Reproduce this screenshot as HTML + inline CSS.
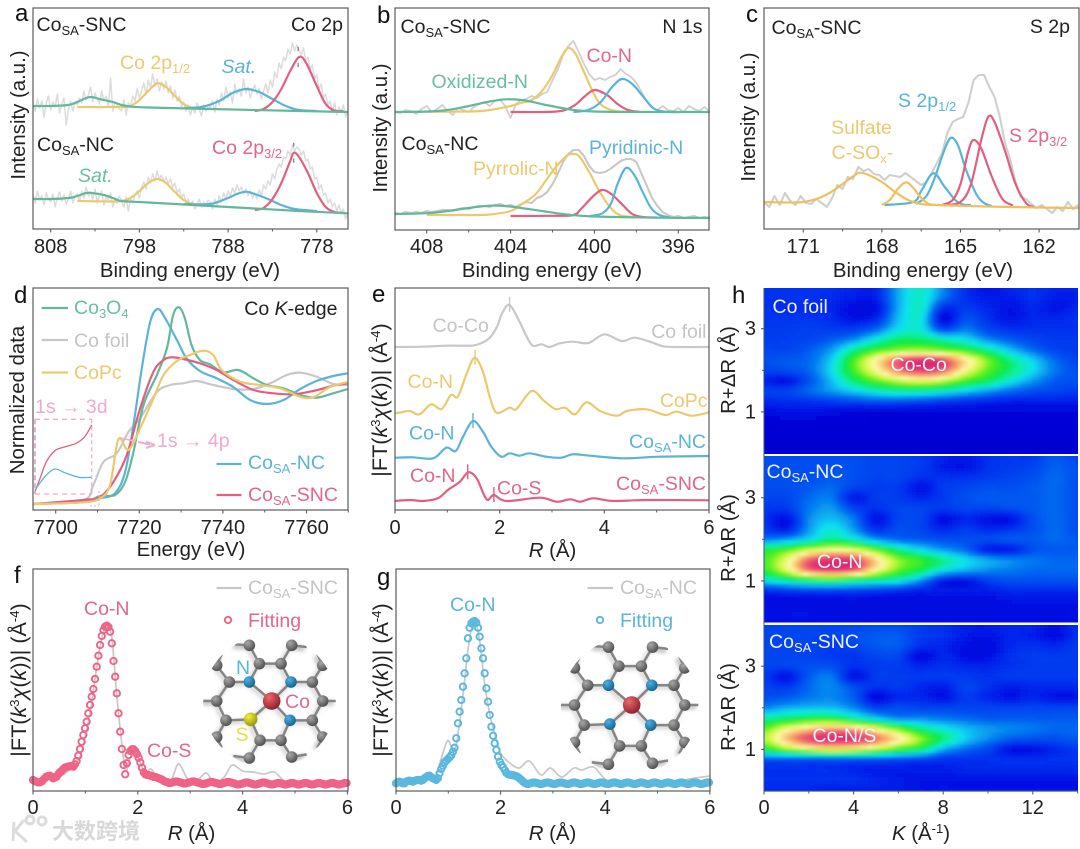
<!DOCTYPE html>
<html lang="en">
<head>
<meta charset="utf-8">
<title>Co single-atom XPS and XAS characterisation</title>
<style>
html,body{margin:0;padding:0;background:#fff;}
svg{display:block;filter:blur(0.35px);}
text{font-family:"Liberation Sans","Noto Sans CJK SC",sans-serif;font-size:19.5px;fill:#222;}
text.ax{font-size:20.4px;}
text.ft{font-size:21.6px;}
.letter{font-size:24px;fill:#111;}
.s{font-size:13px;}
.yel{fill:#ecc96e;}.blu{fill:#5ab4d8;}.tea{fill:#68bfa2;}.red{fill:#e2668a;}.gry{fill:#c4c4c4;}.pnk{fill:#eeaacf;}
.wht{fill:#eef2ff;}
</style>
</head>
<body>
<svg xmlns="http://www.w3.org/2000/svg" width="1080" height="849" viewBox="0 0 1080 849">
<defs>
<filter id="soft" x="-5%" y="-5%" width="110%" height="110%"><feGaussianBlur stdDeviation="1.6"/></filter>
<filter id="shadow" x="-10%" y="-10%" width="120%" height="120%"><feGaussianBlur stdDeviation="2.2"/></filter>
<clipPath id="clip-h1"><rect x="764" y="288" width="314" height="166"/></clipPath>
<clipPath id="clip-h2"><rect x="764" y="456" width="314" height="166.5"/></clipPath>
<clipPath id="clip-h3"><rect x="764" y="625" width="314" height="166"/></clipPath>
<clipPath id="clip-mol-f"><circle cx="269.5" cy="701.5" r="66.5"/></clipPath>
<clipPath id="clip-mol-g"><circle cx="630" cy="706" r="69"/></clipPath>
<radialGradient id="atom-c" cx="35%" cy="30%" r="75%"><stop offset="0" stop-color="#a8a8a8"/><stop offset="1" stop-color="#4c4c4c"/></radialGradient>
<radialGradient id="atom-n" cx="35%" cy="30%" r="75%"><stop offset="0" stop-color="#4fb0e2"/><stop offset="1" stop-color="#14608e"/></radialGradient>
<radialGradient id="atom-s" cx="35%" cy="30%" r="75%"><stop offset="0" stop-color="#f2f23a"/><stop offset="1" stop-color="#98920a"/></radialGradient>
<radialGradient id="atom-co" cx="35%" cy="30%" r="75%"><stop offset="0" stop-color="#e96a6a"/><stop offset="1" stop-color="#8e1c2c"/></radialGradient>
</defs>
<rect width="1080" height="849" fill="#fff"/>

<g clip-path="url(#clip-h1)"><g id="heat-1" filter="url(#soft)"></g></g>
<g clip-path="url(#clip-h2)"><g id="heat-2" filter="url(#soft)"></g></g>
<g clip-path="url(#clip-h3)"><g id="heat-3" filter="url(#soft)"></g></g>
<g id="marks"></g>
<g id="mol-f" clip-path="url(#clip-mol-f)"></g>
<g id="mol-g" clip-path="url(#clip-mol-g)"></g>

<!-- panel a -->
<text class="letter" x="15" y="21">a</text>
<text x="36.5" y="31">Co<tspan class="s" dy="4">SA</tspan><tspan dy="-4">-SNC</tspan></text>
<text x="343" y="31" text-anchor="end">Co 2p</text>
<text class="yel" x="120" y="69">Co 2p<tspan class="s" dy="4">1/2</tspan></text>
<text class="blu" x="221.5" y="73" font-style="italic">Sat.</text>
<text x="37" y="151">Co<tspan class="s" dy="4">SA</tspan><tspan dy="-4">-NC</tspan></text>
<text class="tea" x="78" y="182" font-style="italic">Sat.</text>
<text class="red" x="212" y="154">Co 2p<tspan class="s" dy="4">3/2</tspan></text>
<text class="ax" x="190" y="277" text-anchor="middle">Binding energy (eV)</text>
<text class="ax" x="25" y="115" text-anchor="middle" transform="rotate(-90 25 115)">Intensity (a.u.)</text>

<!-- panel b -->
<text class="letter" x="377" y="23">b</text>
<text x="400.5" y="33">Co<tspan class="s" dy="4">SA</tspan><tspan dy="-4">-SNC</tspan></text>
<text x="702.5" y="33" text-anchor="end">N 1s</text>
<text class="tea" x="431.5" y="88">Oxidized-N</text>
<text class="red" x="586.5" y="62">Co-N</text>
<text x="401.5" y="150">Co<tspan class="s" dy="4">SA</tspan><tspan dy="-4">-NC</tspan></text>
<text class="blu" x="589" y="154">Pyridinic-N</text>
<text class="yel" x="473" y="175">Pyrrolic-N</text>
<text class="ax" x="552" y="277" text-anchor="middle">Binding energy (eV)</text>
<text class="ax" x="387" y="128" text-anchor="middle" transform="rotate(-90 387 128)">Intensity (a.u.)</text>

<!-- panel c -->
<text class="letter" x="746" y="22">c</text>
<text x="771.5" y="34">Co<tspan class="s" dy="4">SA</tspan><tspan dy="-4">-SNC</tspan></text>
<text x="1070" y="33" text-anchor="end">S 2p</text>
<text class="blu" x="898" y="107">S 2p<tspan class="s" dy="4">1/2</tspan></text>
<text class="yel" x="861.5" y="134" text-anchor="middle">Sulfate</text>
<text class="yel" x="831.5" y="159">C-SO<tspan class="s" dy="4">x</tspan><tspan dy="-4">-</tspan></text>
<text class="red" x="1009" y="142">S 2p<tspan class="s" dy="4">3/2</tspan></text>
<text class="ax" x="923" y="277" text-anchor="middle">Binding energy (eV)</text>
<text class="ax" x="755" y="117" text-anchor="middle" transform="rotate(-90 755 117)">Intensity (a.u.)</text>

<!-- panel d -->
<text class="letter" x="14" y="303">d</text>
<text class="tea" x="74" y="314">Co<tspan class="s" dy="4">3</tspan><tspan dy="-4">O</tspan><tspan class="s" dy="4">4</tspan></text>
<text class="gry" x="74" y="347">Co foil</text>
<text class="yel" x="74" y="379">CoPc</text>
<text x="337.5" y="315" text-anchor="end">Co <tspan font-style="italic">K</tspan>-edge</text>
<text class="blu" x="248" y="469">Co<tspan class="s" dy="4">SA</tspan><tspan dy="-4">-NC</tspan></text>
<text class="red" x="248" y="501">Co<tspan class="s" dy="4">SA</tspan><tspan dy="-4">-SNC</tspan></text>
<text class="pnk" x="35" y="413">1s → 3d</text>
<text class="pnk" x="157" y="447">1s → 4p</text>
<text class="ax" x="191" y="556" text-anchor="middle">Energy (eV)</text>
<text class="ax" x="24" y="400" text-anchor="middle" transform="rotate(-90 24 400)">Normalized data</text>

<!-- panel e -->
<text class="letter" x="372" y="302">e</text>
<text class="gry" x="432.5" y="332">Co-Co</text>
<text class="gry" x="706.5" y="338" text-anchor="end">Co foil</text>
<text class="yel" x="407.5" y="388">Co-N</text>
<text class="yel" x="707.5" y="407" text-anchor="end">CoPc</text>
<text class="blu" x="409" y="439.5">Co-N</text>
<text class="blu" x="706" y="448" text-anchor="end">Co<tspan class="s" dy="4">SA</tspan><tspan dy="-4">-NC</tspan></text>
<text class="red" x="410" y="482">Co-N</text>
<text class="red" x="497" y="494.5">Co-S</text>
<text class="red" x="706" y="490" text-anchor="end">Co<tspan class="s" dy="4">SA</tspan><tspan dy="-4">-SNC</tspan></text>
<text class="ax" x="552.5" y="557" text-anchor="middle"><tspan font-style="italic">R</tspan> (Å)</text>
<text class="ft" x="387" y="400" text-anchor="middle" transform="rotate(-90 387 400)">|FT(<tspan font-style="italic">k</tspan><tspan class="s" dy="-7">3</tspan><tspan dy="7" font-style="italic">χ</tspan>(<tspan font-style="italic">k</tspan>))| (Å<tspan class="s" dy="-7">-4</tspan><tspan dy="7">)</tspan></text>

<!-- panel f -->
<text class="letter" x="14" y="583">f</text>
<text class="gry" x="248" y="594">Co<tspan class="s" dy="4">SA</tspan><tspan dy="-4">-SNC</tspan></text>
<text class="red" x="248" y="627">Fitting</text>
<text class="red" x="84" y="615">Co-N</text>
<text class="red" x="147" y="757">Co-S</text>
<text class="ax" x="191.5" y="840" text-anchor="middle"><tspan font-style="italic">R</tspan> (Å)</text>
<text class="ft" x="26" y="680" text-anchor="middle" transform="rotate(-90 26 680)">|FT(<tspan font-style="italic">k</tspan><tspan class="s" dy="-7">3</tspan><tspan dy="7" font-style="italic">χ</tspan>(<tspan font-style="italic">k</tspan>))| (Å<tspan class="s" dy="-7">-4</tspan><tspan dy="7">)</tspan></text>

<!-- panel g -->
<text class="letter" x="377" y="585">g</text>
<text class="gry" x="620" y="594">Co<tspan class="s" dy="4">SA</tspan><tspan dy="-4">-NC</tspan></text>
<text class="blu" x="620" y="627">Fitting</text>
<text class="blu" x="450" y="611">Co-N</text>
<text class="ax" x="552.5" y="840" text-anchor="middle"><tspan font-style="italic">R</tspan> (Å)</text>
<text class="ft" x="388" y="680" text-anchor="middle" transform="rotate(-90 388 680)">|FT(<tspan font-style="italic">k</tspan><tspan class="s" dy="-7">3</tspan><tspan dy="7" font-style="italic">χ</tspan>(<tspan font-style="italic">k</tspan>))| (Å<tspan class="s" dy="-7">-4</tspan><tspan dy="7">)</tspan></text>

<!-- panel h -->
<text class="letter" x="732" y="303">h</text>
<text class="wht" x="772.5" y="313">Co foil</text>
<text class="wht" x="890.5" y="371">Co-Co</text>
<text class="wht" x="766.5" y="478">Co<tspan class="s" dy="4">SA</tspan><tspan dy="-4">-NC</tspan></text>
<text class="wht" x="817" y="568">Co-N</text>
<text class="wht" x="769" y="648">Co<tspan class="s" dy="4">SA</tspan><tspan dy="-4">-SNC</tspan></text>
<text class="wht" x="812.5" y="742">Co-N/S</text>
<text class="ax" x="735" y="370" text-anchor="middle" transform="rotate(-90 735 370)">R+ΔR (Å)</text>
<text class="ax" x="735" y="538" text-anchor="middle" transform="rotate(-90 735 538)">R+ΔR (Å)</text>
<text class="ax" x="735" y="707" text-anchor="middle" transform="rotate(-90 735 707)">R+ΔR (Å)</text>
<text class="ax" x="921" y="840" text-anchor="middle"><tspan font-style="italic">K</tspan> (Å<tspan class="s" dy="-7">-1</tspan><tspan dy="7">)</tspan></text>

<!-- molecule atom labels (above the molecule) -->
<text class="blu" x="236" y="674">N</text>
<text class="red" x="285" y="708">Co</text>
<text x="235.5" y="741" style="fill:#e2e04a">S</text>

<!-- watermark -->
<g fill="none" stroke="#dcdcdc" stroke-width="3">
<path d="M14 822 L13 841 M24 820 L15 831 L27 842"/>
<circle cx="30" cy="820" r="4"/>
<circle cx="42" cy="821" r="4"/>
</g>
<text x="52" y="839" style="font-size:22px;fill:#d8d8d8;font-weight:bold;font-family:'Liberation Sans','Noto Sans CJK SC',sans-serif">大数跨境</text>
</svg>

<script>
// ---------- panel a data ----------
const aTicks=[808,798,788,778];
const aMinor=[803,793,783];
const aSncGray=[124,118,130,121,128,112,126,133,119,127,122,135,116,125,131,104,120,128,118,127,
124,131,126,138,129,134,142,127,136,130,125,138,128,133,122,151,118,127,124,120,
118,129,114,126,122,133,128,140,131,138,146,134,149,141,155,143,150,138,147,140,
148,136,143,131,139,128,133,122,127,118,124,114,122,116,126,120,113,124,118,123,
121,128,117,130,124,136,128,142,131,137,126,145,135,140,133,150,136,142,131,139,
144,135,141,130,138,145,136,149,142,157,151,166,160,172,168,180,175,186,178,184,
179,174,181,168,172,160,164,150,154,140,145,131,135,124,128,118,126,114,122,118,
124,112,118];
const aNcGray=[34,26,38,29,33,24,36,30,27,35,22,31,37,28,34,25,30,38,26,33,
35,28,38,31,42,33,37,30,40,26,34,38,24,32,29,36,22,30,26,33,
28,22,32,18,30,26,34,38,31,42,47,40,52,46,55,48,58,50,54,47,
52,45,50,42,46,36,40,31,35,26,30,24,28,20,25,30,22,27,24,29,
26,20,30,24,33,27,36,30,38,33,41,36,44,38,42,35,40,33,38,31,
36,30,39,33,44,40,48,44,55,50,60,65,62,72,70,78,74,84,78,82,
80,74,78,68,70,60,62,50,52,40,44,34,36,26,30,22,26,18,24,16,
20,10,16];
const aSncTealE=[810,808,806,805,804,803.4,802.5,801,800,799,797,790,780,774.5];
const aSncTealV=[123,123,124,127,131,132,130,127,124,122.5,121.5,120,118,117];
const aSncYelE=[805,800,799,798,797,796,795,794,793,792,791];
const aSncYelV=[122,122,123,129,138,145.7,142,133,125,121,120.5];
const aSncBluE=[793,791,789,787.5,786,784.5,783,781.5,780,778];
const aSncBluV=[121,122,128,136,140,137,130,123,119,118];
const aSncRedE=[785,784,783,782,781,780,779.2,778,777,776,775];
const aSncRedV=[118,120,127,140,158,172,166,143,125,118.5,118];
const aNcTealE=[810,808,806,805,804,803.4,802,801,800,798,795,790,785,780,774.5];
const aNcTealV=[30,30,31,33,36,36,34,31,28,27,25.5,23,20.5,18,15.7];
const aNcYelE=[805,801,800,799,798,797,796,795,794,793,792,791];
const aNcYelV=[28,27.5,28,31,38,46,50,46,37,29,25,24];
const aNcBluE=[793,790,788,787,786,785,783.5,782,780.5,778];
const aNcBluV=[25,25,31,35,37.3,35,30,24,20,18];
const aNcRedE=[785,784,783,782,781,780.6,780,779,778,777,776,775];
const aNcRedV=[19,21,30,46,68,76.3,72,56,36,22,17,16];
const aPeakMarksE=[780.1,780.6];
const aPeakMarksV=[172,76.3];

// ---------- panel b data ----------
const bTicks=[408,404,400,396];
const bMinor=[406,402,398];
const bSncGray=[118,117,120,119,116,121,124,118,121,125,119,115,122,120,118,123,126,128,124,129,130,124,112,126,130,131,134,132,136,138,150,160,175,184,189,178,166,156,150,152,150,153,155,161,156,153,147,138,128,122,120,124,120,119,122,118,124,121,119,123,118];
const bNcGray=[17,16,18,17,18,17,19,18,19,20,20,19,21,22,21,23,24,24,23,25,26,24,25,23,26,28,27,32,34,38,46,56,68,76,80,80,74,64,58,57,58,61,65,69,71,71,68,56,44,32,24,18,15,13,14,12,13,14,12,13,12];
const bSncTealE=[409.5,408,407,406,405,404.2,403.3,402.3,401,400,398,394.5];
const bSncTealV=[118,118.5,120,124,128.5,130.7,129.5,125,120,118.5,118,118];
const bSncYelE=[409.5,406,405,404,403.5,403,402.5,402,401.6,401.25,400.9,400.5,400,399.6,399,398];
const bSncYelV=[118,118.5,120,124,127,130,139,155,172,182,176,158,135,124,119,118];
const bSncRedE=[404,401.8,401,400.5,400,399.4,398.9,398.4,397.8];
const bSncRedV=[118,118.5,124,133,140,135,126,120,118];
const bSncBluE=[401,400.3,399.7,399.2,398.7,398.2,397.7,397.2,396.7,396];
const bSncBluV=[118,120,128,142,151,146,134,122,118.5,118];
const bNcTealE=[409.5,408,407,406,405,404.3,403.5,402.5,401.5,400.5,399,397,394.5];
const bNcTealV=[16,16.8,19,22,24.3,24,22,19,16,14,13,12.3,12];
const bNcYelE=[408,406,405,404,403.4,402.8,402.3,401.8,401.3,401,400.7,400.2,399.8,399.3,398.8,398];
const bNcYelV=[15,15,15.5,19,26.7,36,50,64,74.5,76,73,56,40,24,15,13];
const bNcRedE=[404,402,401,400.6,400.1,399.65,399.2,398.7,398.2,397.7,397];
const bNcRedV=[14,14.2,15,22,33,40,36,26,16,13,12.5];
const bNcBluE=[400.2,399.6,399.2,398.9,398.5,398.1,397.7,397.3,396.9,396.4];
const bNcBluV=[14,17,27,46,62,55,38,22,15,12.5];

// ---------- panel c data ----------
const cTicks=[171,168,165,162];
const cMinor=[169.5,166.5,163.5];
const cGray=[27,22,33,24,36,28,24,33,26,25,30,26,22,31,44,40,52,50,62,58,60,55,54,49,54,53,52,56,52,48,44,47,56,66,76,96,107,110,112,126,149,154,154,142,132,112,86,69,47,32,30,25,21,24,20,16,22,18,27,20,24];
const cYelE=[172.5,171.5,171,170.5,170,169.5,169,168.84,168.5,168,167.5,167,166.5,166,164,162,160.5];
const cYelV=[27,26.5,27,30,36,45,54.5,56.3,54,47,37,29,25,24,22.5,21.5,21];
const cYel2E=[168,167.7,167.4,167.08,166.8,166.5,166.2,165.8];
const cYel2V=[24,29,40,46.7,41,31,25,24];
const cBlu1E=[167.9,166.8,166.5,166.04,165.6,165.2,164.9,164.6];
const cBlu1V=[24,27,38,55.7,42,29,24.5,24];
const cBlu2E=[166.7,166.3,166,165.6,165.36,165.1,164.8,164.4,164.1,163.8];
const cBlu2V=[25,33,50,80,91.3,84,60,35,26,23];
const cRed1E=[165.7,165.3,165,164.7,164.5,164.2,163.8,163.4,163];
const cRed1V=[24,29,45,78,89,80,52,30,23.5];
const cRed2E=[165.6,165,164.6,164.2,163.94,163.7,163.3,162.9,162.5,162.2];
const cRed2V=[24,27,45,90,112.3,107,78,45,26,22];

// ---------- panel d data ----------
const dTicks=[7700,7720,7740,7760];
const dMinor=[7710,7730,7750,7770];
const dBluE=[7694.7,7706.6,7710.6,7714.2,7716.6,7718.6,7720.6,7722.6,7724.4,7726.2,7729,7731.3,7734.5,7738.5,7742.5,7746.5,7750.5,7754.5,7758.5,7762.4,7766.4,7769.9];
const dBluV=[6,8.3,11.7,16.7,38,85,141.7,188,201,191.7,170,151.7,139,131.7,123,110,106,110,121,129,134,136.7];
const dTeaE=[7694.7,7706.6,7710.6,7714.2,7716.6,7718.6,7721,7724.2,7726.6,7728.1,7729.5,7730.9,7732.5,7734.5,7736.9,7740.1,7743.7,7747.3,7750.5,7754.5,7758.5,7762.4,7766.4,7769.9];
const dTeaV=[6,8,14,15,28,58,105,135,161.7,195,202.7,191.7,165,150,145.7,137.7,140,131.7,125,121.7,115,112.3,116.7,121];
const dGryE=[7694.7,7706.6,7709,7711.4,7714.6,7717.4,7720.2,7724.2,7727.4,7730.5,7733.7,7737.7,7742.5,7747.3,7751.3,7755.3,7758.5,7762.4,7766.4,7769.9];
const dGryV=[6,10,25,48,56.7,78,91.7,118,125,126.7,129,125,121,121,126.7,135,137.3,133.3,126,125];
const dYelE=[7694.7,7706.6,7710.6,7713,7715,7717.4,7720.2,7723.4,7725.8,7729,7732.1,7735.3,7737.7,7739.7,7744.1,7748.9,7753.7,7758.5,7761.6,7765.6,7769.9];
const dYelV=[6,7.7,11.7,25,70.7,60,81.7,111.7,135,149,155,159.3,155,140,128.3,125,121.7,113.3,112.7,123,128];
const dRedE=[7694.7,7706.6,7710.6,7713.8,7717,7720.2,7723.4,7725.8,7727.8,7730.5,7734.5,7738.5,7742.5,7747.3,7752.1,7756.9,7761.6,7766.4,7769.9];
const dRedV=[6,10,13,28,55,101.7,138.3,150,152.7,151,146.7,140,130,120,116.7,115.7,119,124.3,126.7];
const insetRedE=[7707,7707.4,7707.8,7708.4,7709,7709.9,7710.5,7711];
const insetRedV=[18.3,33.3,48.3,59.3,62.7,66.7,73.3,85];
const insetBluE=[7707,7707.4,7707.8,7708.4,7709.2,7710.1,7711];
const insetBluV=[20,28,35,41,36.7,32.7,32.7];

// ---------- panel e data ----------
const rTicks=[0,2,4,6];
const rMinor=[1,3,5];
const eGryR=[0,.5,1,1.3,1.55,1.8,1.95,2.05,2.19,2.38,2.5,2.63,2.8,2.95,3.15,3.4,3.7,4,4.33,4.58,4.87,5.13,5.45,6];
const eGryV=[163,163.3,164.3,164.3,165,171.7,183.3,197,205,188.3,175,164.3,165.7,163,166.7,168.3,167,175.7,169,172.3,168.3,163.7,163,163];
const eYelR=[0,.12,.28,.47,.69,.89,1.07,1.2,1.36,1.52,1.68,1.81,1.94,2.19,2.32,2.61,2.83,3.06,3.25,3.44,3.66,3.92,4.24,4.43,4.81,5.16,5.38,5.67,6];
const eYelV=[96.7,97.7,99,95.7,105.7,101,115,113.3,135,152.3,138.3,113.3,97.3,102.3,101,119,110,101,102.3,95.7,107.7,99,94.3,99,100.7,95,98.3,94.3,97.7];
const eBluR=[0,.34,.73,.98,1.16,1.3,1.49,1.68,1.84,2.03,2.19,2.38,2.57,2.89,3.18,3.4,3.72,4.36,5.06,6];
const eBluV=[52.3,52.7,51.7,62.3,59,73.3,89,78.3,63.3,53.3,56.7,54.3,56.7,53.3,52.3,55.7,54.3,51.7,53.3,54];
const eRedR=[0,.28,.54,.82,1.01,1.24,1.4,1.56,1.75,1.89,2.13,2.77,3.09,3.35,3.54,3.79,4.17,4.81,6];
const eRedV=[9,10,9,11.7,20,28.3,37.7,31.7,10.7,15,9,12.3,8.3,10.7,8.3,11.7,9,10,9.7];
const eMarkR=[2.19,1.53,1.49,1.39,1.89];
const eMarkV=[205,152.3,89,37.7,15];

// ---------- panel f data ----------
const fitStep=0.032;
const fFit=[11,10,9.3,8.7,8.7,9.3,11,12.7,14.3,15,15.3,14.3,12.7,13.3,14.3,16.7,18.7,20,22,23.3,24,24.3,24.7,25,24.3,26.7,30,35.3,42,49.3,56,62.7,69.3,77.7,86,94.3,102,112,124.3,135.3,146,155,161,164.3,165.3,164,159.3,147.7,130,114.3,97.7,77.7,59.3,42,26,16.7,27.7,36,40,41.7,41.7,40,37,33.3,28.7,23.3,18.7,16.7,16,16,15.3,14.7,14,14,13.3,12.7,12,11.3,10,9.3,9,8,8,8.5,9,9.5,9.5,9,8.5,8,7.5,7.5,8,8.5,9,9.5,9.5,9,8.5,8,7.5,7,7,7.5,8,8.5,9,9,8.5,8,7.5,7,7,7.5,8,8.5,9,9,8.5,8,7.5,7,6.5,6.5,7,7.5,8,8.5,8.5,8,7.5,7,6.5,6.5,7,7.5,8,8.5,8.5,8,7.5,7,6.5,6.5,7,7.5,8,8,7.5,7,6.5,6.5,7,7.5,8,8,7.5,7,6.5,6.5,7,7.5,8,8,7.5,7,6.5,6.5,7,7.5,8,8,7.5,7,6.5,6.5,7,7.5,8,8,7.5,7,6.5,6.5,7,7.5,8,8,7.5,7,6.5];
const fGrayR=[0,.25,.5,.75,.9,1,1.1,1.2,1.3,1.4,1.5,1.6,1.7,1.77,1.85,1.93,2.05,2.15,2.25,2.4,2.55,2.65,2.78,2.95,3.1,3.3,3.45,3.65,3.8,4,4.2,4.4,4.6,4.8,5,6];
const fGrayV=[10,12,14,24,35,56,82,118,150,165,155,95,45,20,32,42,28,18,22,12,8,12,27,12,9,18,9,14,26,20,19,17,19,10,8,8];

// ---------- panel g data ----------
const gFit=[7.7,8.7,9.3,8.7,7.7,7.7,9.3,10,10.3,10,9.3,10,10.7,11,11,10.3,11,12.7,13.7,15,15.3,14,12.7,12,11,12.7,17.7,22,25.3,28.7,30.3,32,33.7,35.7,39.3,43.3,52.7,67.7,79.3,91,104.3,117.7,132.7,152.7,163.3,167.7,169.3,170,168.3,163.3,154.3,142.7,132.7,117.7,102.7,89.3,76,64.3,55.3,47.7,41,34.3,29.3,26,23.7,21,18,16.7,16.3,16,15.7,15.3,14.7,13.7,12.3,11,9.3,8,7.3,7,7.5,8,8.5,8.5,8,7.5,7,7,7.5,8,8.5,8.5,8,7.5,7,7,7.5,8,8.5,8.5,8,7.5,7,7,7.5,8,8.5,8.5,8,7.5,7,7,7.5,8,8.5,8.5,8,7.5,7,7,7.5,8,8.5,8.5,8,7.5,7,7,7.5,8,8.5,8.5,8,7.5,7,7,7.5,8,8.5,8.5,8,7.5,7,7,7.5,8,8.5,8.5,8,7.5,7,7,7.5,8,8.5,8.5,8,7.5,7,7,7.5,8,8.5,8.5,8,7.5,7,7,7.5,8,8.5,8.5,8,7.5,7,7,7.5,8,8.5,8.5,8,7.5,7,7,7.5,8,8.5,8.5,8,7.5,7,7];
const gGrayR=[0,.3,.6,.75,.85,.98,1.05,1.12,1.2,1.3,1.4,1.5,1.6,1.7,1.8,1.9,2,2.15,2.35,2.55,2.77,2.95,3.17,3.4,3.55,3.78,4,4.3,5.3,5.6,6];
const gGrayV=[9,10,12,12,30,50,45,40,62,105,150,170,150,105,75,55,38,29,23,30,16,23,14,23,21,24,12,8,8,12,15];

// ---------- panel h data (rows run R = 4.00 down to 0.00 in 0.25 steps, columns K = 0..14) ----------
const kTicks=[0,4,8,12];
const kMinor=[2,6,10,14];
const hRTicks=[3,1];
const hRMinor=[2,0];
const heatFoil=[
[16,16,16,16,14,14,34,44,30,16,10,14,16,14,14],
[16,16,16,15,12,13,34,44,28,16,12,12,16,12,12],
[16,15,15,14,8,9,34,44,16,18,14,10,14,10,14],
[17,17,17,15,10,14,36,42,8,22,16,10,14,14,16],
[18,18,19,18,18,25,40,42,20,28,20,16,16,16,16],
[18,19,20,24,30,42,52,52,46,40,30,24,20,18,18],
[20,20,24,32,48,60,66,68,64,58,48,36,26,20,18],
[22,24,26,38,62,80,94,100,96,82,66,50,38,26,20],
[20,22,26,40,62,78,92,98,94,78,64,52,40,28,22],
[12,10,22,36,52,64,72,76,72,62,54,42,32,24,22],
[20,20,26,32,38,44,48,48,44,38,32,26,22,20,18],
[14,15,16,18,20,22,22,20,18,16,14,12,12,12,12],
[8,10,10,8,7,6,6,6,6,6,6,6,6,6,6],
[5,5,5,5,5,5,5,5,5,5,5,5,5,5,5],
[4,4,4,4,4,4,4,4,4,4,4,4,4,4,4],
[3,3,3,3,3,3,3,3,3,3,3,3,3,3,3],
[3,3,3,3,3,3,3,3,3,3,3,3,3,3,3]];
const heatNc=[
[22,22,22,22,22,20,20,18,14,12,16,18,18,24,20],
[22,22,22,22,22,20,20,18,12,10,16,18,20,25,22],
[22,22,22,24,22,20,20,16,16,16,18,20,22,26,22],
[22,22,24,26,20,18,18,10,18,20,22,22,24,26,22],
[20,20,26,28,12,18,18,14,18,22,24,24,24,26,22],
[18,18,28,32,20,16,20,20,18,20,20,22,24,26,22],
[16,10,30,36,28,10,20,20,9,14,10,10,22,26,22],
[18,12,32,42,32,16,22,20,14,18,14,16,22,26,22],
[28,32,40,50,44,32,26,24,22,22,22,24,24,26,24],
[56,62,72,78,76,64,50,40,32,26,12,12,22,24,24],
[62,76,94,100,98,84,68,60,50,40,34,30,28,26,26],
[60,74,92,98,94,78,64,54,40,34,30,28,26,26,26],
[40,46,52,54,50,46,42,30,12,10,18,22,22,22,22],
[14,16,18,18,18,16,14,12,12,12,12,14,14,14,14],
[8,8,8,8,8,8,8,8,8,8,8,10,10,10,10],
[10,10,10,8,8,8,8,8,8,8,8,8,8,8,10],
[8,8,8,8,8,8,8,8,8,8,8,8,8,8,8]];
const heatSnc=[
[20,20,20,20,20,20,20,18,16,12,12,14,14,10,16],
[20,20,20,20,22,24,24,18,16,12,10,14,12,8,16],
[20,20,20,18,20,24,24,16,14,9,8,14,16,14,18],
[20,20,20,18,17,20,20,8,14,9,9,16,18,18,18],
[20,20,22,22,16,18,18,14,16,14,14,16,18,18,18],
[18,10,24,28,10,18,18,18,18,18,16,18,18,18,18],
[20,18,26,30,22,16,18,14,12,20,16,12,14,14,14],
[22,24,28,30,24,8,14,14,10,18,14,10,14,10,10],
[30,34,36,36,30,20,22,20,20,20,20,20,20,20,20],
[48,52,56,56,48,38,30,30,28,26,24,24,24,24,24],
[64,76,84,88,86,76,64,50,42,36,32,30,28,26,26],
[70,86,97,100,99,93,82,68,52,38,30,24,22,22,24],
[56,66,74,78,76,70,60,52,34,26,20,10,10,14,18],
[22,22,22,22,22,22,20,18,16,16,16,16,16,16,16],
[16,16,16,16,14,12,12,12,12,14,14,14,14,14,14],
[16,16,16,16,16,14,12,10,10,10,10,10,10,10,10],
[14,14,14,12,12,12,12,10,10,10,10,10,10,10,10]];
const cmapV=[0,8,16,24,32,40,48,56,64,72,80,88,94,100];
const cmapC=['#0000c8','#0008e0','#0030f0','#0058f0','#0898f0','#10e0f0','#10f0a0','#10e840','#50f020','#d0f840','#fff8a8','#f8b060','#f06070','#e02c70'];

// ---------- palette ----------
const YEL='#ecc96e',BLU='#5ab4d8',TEA='#62b89c',RED='#e0607f',GRY='#c8c8c8',XGRY='#dcdcdc',FRAME='#5c5c5c',PINK='#eaaed0',ORG='#f0bf62';
const LW=2.2;

// ---------- helpers ----------
const NS='http://www.w3.org/2000/svg';
const marks=document.getElementById('marks');
function linear(v0,px0,k){return function(v){return px0+(v-v0)*k;};}
function base(b){return function(v){return b-v;};}
function smoothPath(p){
  let d='M'+p[0][0].toFixed(2)+' '+p[0][1].toFixed(2);
  for(let i=0;i<p.length-1;i++){
    const a=p[Math.max(0,i-1)],b=p[i],c=p[i+1],e=p[Math.min(p.length-1,i+2)];
    const c1x=b[0]+(c[0]-a[0])/6,c1y=b[1]+(c[1]-a[1])/6,c2x=c[0]-(e[0]-b[0])/6,c2y=c[1]-(e[1]-b[1])/6;
    d+=' C'+c1x.toFixed(2)+' '+c1y.toFixed(2)+' '+c2x.toFixed(2)+' '+c2y.toFixed(2)+' '+c[0].toFixed(2)+' '+c[1].toFixed(2);
  }
  return d;
}
function polyPath(p){return 'M'+p.map(q=>q[0].toFixed(2)+' '+q[1].toFixed(2)).join(' L');}
function curve(xs,ys,sx,sy,color,w,name,jagged){
  const pts=xs.map((x,i)=>[sx(x),sy(ys[i])]);
  const el=document.createElementNS(NS,'path');
  el.setAttribute('d',jagged?polyPath(pts):smoothPath(pts));
  el.setAttribute('fill','none');
  el.setAttribute('stroke',color);
  el.setAttribute('stroke-width',w);
  el.setAttribute('stroke-linejoin','round');
  
  
  marks.appendChild(el);
  return el;
}
function seg(x1,y1,x2,y2,color,w,name,dash){
  const el=document.createElementNS(NS,'line');
  el.setAttribute('x1',x1);el.setAttribute('y1',y1);el.setAttribute('x2',x2);el.setAttribute('y2',y2);
  el.setAttribute('stroke',color);el.setAttribute('stroke-width',w);
  if(dash)el.setAttribute('stroke-dasharray',dash);
  
  
  marks.appendChild(el);
  return el;
}
function tickLabel(x,y,txt,anchor,name){
  const el=document.createElementNS(NS,'text');
  el.setAttribute('x',x);el.setAttribute('y',y);
  el.setAttribute('text-anchor',anchor);
  el.setAttribute('style','font-size:20px');
  el.textContent=txt;
  
  
  marks.appendChild(el);
}
function frameBox(l,t,r,b,name){
  const el=document.createElementNS(NS,'rect');
  el.setAttribute('x',l);el.setAttribute('y',t);el.setAttribute('width',r-l);el.setAttribute('height',b-t);
  el.setAttribute('fill','none');el.setAttribute('stroke',FRAME);el.setAttribute('stroke-width',1.2);
  
  
  marks.appendChild(el);
}
function xAxis(sx,b,major,minor,labelY,name){
  major.forEach(v=>{
    seg(sx(v),b,sx(v),b+3.5,FRAME,1.1,name+'-major-tick');
    tickLabel(sx(v),labelY,String(v),'middle',name+'-tick-label');
  });
  minor.forEach(v=>seg(sx(v),b,sx(v),b+2.5,FRAME,1,name+'-minor-tick'));
}

// ---------- panel a ----------
const ax=linear(808,50.7,-8.87),ay=base(229);
curve(aSncGray.map((_,i)=>810-i*0.25),aSncGray,ax,ay,XGRY,1.5,'series-a-snc-raw',true);
curve(aNcGray.map((_,i)=>810-i*0.25),aNcGray,ax,ay,XGRY,1.5,'series-a-nc-raw',true);
curve(aSncYelE,aSncYelV,ax,ay,YEL,LW,'series-a-snc-co2p12');
curve(aSncBluE,aSncBluV,ax,ay,BLU,LW,'series-a-snc-sat');
curve(aSncRedE,aSncRedV,ax,ay,RED,LW,'series-a-snc-co2p32');
curve(aSncTealE,aSncTealV,ax,ay,TEA,LW,'series-a-snc-sat-baseline');
curve(aNcYelE,aNcYelV,ax,ay,YEL,LW,'series-a-nc-co2p12');
curve(aNcBluE,aNcBluV,ax,ay,BLU,LW,'series-a-nc-sat');
curve(aNcRedE,aNcRedV,ax,ay,RED,LW,'series-a-nc-co2p32');
curve(aNcTealE,aNcTealV,ax,ay,TEA,LW,'series-a-nc-sat-baseline');
aPeakMarksE.forEach((e,i)=>{
  seg(ax(e),ay(aPeakMarksV[i]+10),ax(e),ay(aPeakMarksV[i]+6),'#777',1.2,'peak-mark-a');
  seg(ax(e),ay(aPeakMarksV[i]-6),ax(e),ay(aPeakMarksV[i]-10),'#777',1.2,'peak-mark-a');
});
frameBox(33,8,348,229,'plot-frame-a');
xAxis(ax,229,aTicks,aMinor,253,'x-axis-a');

// ---------- panel b ----------
const bx=linear(408,426.7,-20.97),by=base(230);
curve(bSncGray.map((_,i)=>409.5-i*0.25),bSncGray,bx,by,'#d0d0d0',1.8,'series-b-snc-raw',true);
curve(bNcGray.map((_,i)=>409.5-i*0.25),bNcGray,bx,by,'#c8c8c8',2.1,'series-b-nc-raw',true);
curve(bSncYelE,bSncYelV,bx,by,YEL,LW,'series-b-snc-pyrrolic');
curve(bSncRedE,bSncRedV,bx,by,RED,LW,'series-b-snc-co-n');
curve(bSncBluE,bSncBluV,bx,by,BLU,LW,'series-b-snc-pyridinic');
curve(bSncTealE,bSncTealV,bx,by,TEA,LW,'series-b-snc-oxidized');
curve(bNcYelE,bNcYelV,bx,by,YEL,LW,'series-b-nc-pyrrolic');
curve(bNcRedE,bNcRedV,bx,by,RED,LW,'series-b-nc-co-n');
curve(bNcBluE,bNcBluV,bx,by,BLU,LW,'series-b-nc-pyridinic');
curve(bNcTealE,bNcTealV,bx,by,TEA,LW,'series-b-nc-oxidized');
frameBox(395,8,709,230,'plot-frame-b');
xAxis(bx,230,bTicks,bMinor,253,'x-axis-b');

// ---------- panel c ----------
const cx=linear(171,803.3,-26.2),cy=base(229);
curve(cGray.map((_,i)=>172.5-i*0.2),cGray,cx,cy,'#cfcfcf',2.1,'series-c-raw',true);
curve(cBlu1E,cBlu1V,cx,cy,BLU,LW,'series-c-s2p12-a');
curve(cBlu2E,cBlu2V,cx,cy,BLU,LW,'series-c-s2p12-b');
curve(cRed1E,cRed1V,cx,cy,RED,LW,'series-c-s2p32-a');
curve(cRed2E,cRed2V,cx,cy,RED,LW,'series-c-s2p32-b');
curve(cYel2E,cYel2V,cx,cy,ORG,LW,'series-c-sulfate-b');
curve(cYelE,cYelV,cx,cy,ORG,LW,'series-c-sulfate-a');
frameBox(764,8,1079,229,'plot-frame-c');
xAxis(cx,229,cTicks,cMinor,253,'x-axis-c');

// ---------- panel d ----------
const dx=linear(7700,55.7,4.18),dy=base(510);
const insetX=linear(7707,35,14.2);
curve(dGryE,dGryV,dx,dy,GRY,LW,'series-d-co-foil');
curve(dBluE,dBluV,dx,dy,BLU,LW,'series-d-cosa-nc');
curve(dTeaE,dTeaV,dx,dy,TEA,LW,'series-d-co3o4');
curve(dRedE,dRedV,dx,dy,RED,LW,'series-d-cosa-snc');
curve(dYelE,dYelV,dx,dy,YEL,LW,'series-d-copc');
curve(insetRedE,insetRedV,insetX,dy,RED,1.3,'series-d-inset-cosa-snc');
curve(insetBluE,insetBluV,insetX,dy,BLU,1.3,'series-d-inset-cosa-nc');
seg(35,419.3,91.7,419.3,PINK,1.3,'inset-box-top','5 4');
seg(91.7,419.3,91.7,494,PINK,1.3,'inset-box-right','4 3');
seg(35,419.3,35,494,PINK,2,'inset-box-left','5 3');
seg(35,494,91.7,494,PINK,1.3,'inset-box-bottom','5 4');
seg(90,506,99,506,PINK,1.1,'inset-source-box-bottom','2 2');
seg(99,491,99,506,PINK,1.1,'inset-source-box-right','2 2');
seg(120,438,134,441,PINK,1.5,'annotation-leader-1s-4p');
seg(138,442,150,444.5,PINK,2,'annotation-arrow-1s-4p');
seg(146,441.5,155,445,PINK,2,'annotation-arrow-head-top');
seg(146,448,155,445,PINK,2,'annotation-arrow-head-bottom');
seg(41.7,308,68,308,TEA,2.2,'legend-line-co3o4');
seg(41.7,340,68,340,GRY,2.2,'legend-line-co-foil');
seg(41.7,372.5,68,372.5,YEL,2.2,'legend-line-copc');
seg(216.5,464,241.5,464,BLU,2.2,'legend-line-cosa-nc');
seg(216.5,495,241.5,495,RED,2.2,'legend-line-cosa-snc');
frameBox(33,288,348,510,'plot-frame-d');
xAxis(dx,510,dTicks,dMinor,534,'x-axis-d');

// ---------- panel e ----------
const ex=linear(0,395,52.33),ey=base(510);
curve(eGryR,eGryV,ex,ey,GRY,LW,'series-e-co-foil');
curve(eYelR,eYelV,ex,ey,YEL,LW,'series-e-copc');
curve(eBluR,eBluV,ex,ey,BLU,LW,'series-e-cosa-nc');
curve(eRedR,eRedV,ex,ey,RED,LW,'series-e-cosa-snc');
const eMarkColor=[GRY,YEL,BLU,RED,RED];
eMarkR.forEach((r,i)=>seg(ex(r),ey(eMarkV[i]+8),ex(r),ey(eMarkV[i]-7),eMarkColor[i],1.4,'peak-mark-e'));
frameBox(395,288,709,510,'plot-frame-e');
xAxis(ex,510,rTicks,rMinor,534,'x-axis-e');

// ---------- panel f ----------
const fx=linear(0,33,52.4),fy=base(791);
function circles(values,sx,sy,color,name){
  values.forEach((v,i)=>{
    if(i*fitStep>6)return;
    const el=document.createElementNS(NS,'circle');
    el.setAttribute('cx',sx(i*fitStep).toFixed(2));
    el.setAttribute('cy',sy(v).toFixed(2));
    el.setAttribute('r',3.2);
    el.setAttribute('fill','none');
    el.setAttribute('stroke',color);
    el.setAttribute('stroke-width',1.9);
    
    
    marks.appendChild(el);
  });
}
curve(fGrayR,fGrayV,fx,fy,GRY,1.7,'series-f-data');
circles(fFit,fx,fy,'#ee6386','series-f-fit-point');
frameBox(33,569,348,791,'plot-frame-f');
xAxis(fx,791,rTicks,rMinor,814,'x-axis-f');
seg(216.5,588,241.5,588,GRY,2.2,'legend-line-f');
circles([0],linear(0,228,1),()=>620,'#ee6386','legend-marker-f');

// ---------- panel g ----------
const gx=linear(0,396,52.3),gy=base(791);
curve(gGrayR,gGrayV,gx,gy,GRY,1.7,'series-g-data');
circles(gFit,gx,gy,'#5ab8de','series-g-fit-point');
frameBox(396,569,710,791,'plot-frame-g');
xAxis(gx,791,rTicks,rMinor,814,'x-axis-g');
seg(587.5,588,613,588,GRY,2.2,'legend-line-g');
circles([0],linear(0,600,1),()=>620,'#5ab8de','legend-marker-g');

// ---------- panel h ----------
const kx=linear(0,764,22.4);
function hexToRgb(h){return [parseInt(h.slice(1,3),16),parseInt(h.slice(3,5),16),parseInt(h.slice(5,7),16)];}
const cmapRgb=cmapC.map(hexToRgb);
function colorOf(v){
  v=Math.max(0,Math.min(100,v));
  let i=0;
  while(i<cmapV.length-2&&v>cmapV[i+1])i++;
  const t=(v-cmapV[i])/(cmapV[i+1]-cmapV[i]);
  const c=cmapRgb[i].map((a,j)=>Math.round(a+(cmapRgb[i+1][j]-a)*t));
  return 'rgb('+c.join(',')+')';
}
function cr(a,b,c,d,t){return b+0.5*t*(c-a+t*(2*a-5*b+4*c-d+t*(3*(b-c)+d-a)));}
function sample(m,row,col){
  const R=m.length-1,C=m[0].length-1;
  row=Math.max(0,Math.min(R,row));col=Math.max(0,Math.min(C,col));
  const r0=Math.min(R-1,Math.floor(row)),c0=Math.min(C-1,Math.floor(col));
  const tr=row-r0,tc=col-c0;
  const rows=[-1,0,1,2].map(dr=>{
    const rr=m[Math.max(0,Math.min(R,r0+dr))];
    return cr(rr[Math.max(0,c0-1)],rr[c0],rr[c0+1],rr[Math.min(C,c0+2)],tc);
  });
  return cr(rows[0],rows[1],rows[2],rows[3],tr);
}
function heat(matrix,groupId,topY,bottomY,yBase){
  const group=document.getElementById(groupId);
  const step=4;
  for(let y=topY-4;y<bottomY+4;y+=step){
    for(let x=760;x<1082;x+=step){
      const k=(x+step/2-764)/22.4;
      const R=(yBase-(y+step/2))/41.6;
      const el=document.createElementNS(NS,'rect');
      el.setAttribute('x',x);el.setAttribute('y',y);
      el.setAttribute('width',step+0.3);el.setAttribute('height',step+0.3);
      el.setAttribute('fill',colorOf(sample(matrix,(4-R)/0.25,k)));
      el.setAttribute('shape-rendering','crispEdges');
      
      
      group.appendChild(el);
    }
  }
}
heat(heatFoil,'heat-1',288,454,453.5);
heat(heatNc,'heat-2',456,622.5,622.5);
heat(heatSnc,'heat-3',625,791,791);
[453.5,622.5,791].forEach(yb=>{
  hRTicks.forEach(r=>{
    const y=yb-r*41.6;
    seg(761,y,764,y,FRAME,1.1,'y-axis-h-major-tick');
    tickLabel(756,y+6.5,String(r),'end','y-axis-h-tick-label');
  });
  hRMinor.forEach(r=>{
    const y=yb-r*41.6;
    if(r>0)seg(762,y,764,y,FRAME,1,'y-axis-h-minor-tick');
  });
});
seg(764,288,764,791,'#3a4f90',1,'y-axis-line-h');
seg(764,791,1078,791,'#3a4f90',1.2,'x-axis-line-h');
xAxis(kx,791,kTicks,kMinor,814,'x-axis-h');

// ---------- molecule insets ----------
const molGray=[[-67,-167],[60,-167],[-165,-107],[153,-107],[-37,-112],[28,-112],[-127,-57],[122,-57],[-165,0],[153,0],[-137,58],[122,58],[-165,108],[153,108],[-35,118],[28,118],[-67,171],[60,168]];
const molHetero=[[-67,-57],[58,-57],[55,58],[-63,55]];
const molBonds=[[22,18],[22,19],[22,20],[22,21],[18,4],[18,6],[19,5],[19,7],[4,5],[4,0],[5,1],[6,2],[6,8],[7,3],[7,9],[8,10],[9,11],[10,21],[10,12],[11,20],[11,13],[21,14],[20,15],[14,15],[14,16],[15,17]];
const molLoose=[[8,-205,0],[9,192,0],[0,-110,-170],[1,105,-162],[2,-150,-140],[3,137,-140],[12,-150,140],[13,137,140],[16,-115,165],[17,105,160]];
function molecule(groupId,cxp,cyp,scale,heteroKind){
  const g=document.getElementById(groupId);
  const all=molGray.concat(molHetero,[[0,0]]);
  const P=q=>[cxp+q[0]*scale,cyp+q[1]*scale];
  const shade=document.createElementNS(NS,'g');
  shade.setAttribute('filter','url(#shadow)');
  
  
  g.appendChild(shade);
  function bond(parent,a,b,color,w,off){
    const el=document.createElementNS(NS,'line');
    const pa=P(a),pb=P(b);
    el.setAttribute('x1',pa[0]-off);el.setAttribute('y1',pa[1]+off);
    el.setAttribute('x2',pb[0]-off);el.setAttribute('y2',pb[1]+off);
    el.setAttribute('stroke',color);el.setAttribute('stroke-width',w);
    
    
    parent.appendChild(el);
  }
  molLoose.forEach(l=>bond(shade,all[l[0]],[l[1],l[2]],'#b4b4b4',4,2));
  molBonds.forEach(b=>bond(shade,all[b[0]],all[b[1]],'#c4c4c4',3,2));
  molLoose.forEach(l=>bond(g,all[l[0]],[l[1],l[2]],'#858585',2.5,0));
  molBonds.forEach(b=>bond(g,all[b[0]],all[b[1]],'#858585',2.5,0));
  function atom(q,r,fill,name){
    const el=document.createElementNS(NS,'circle');
    const p=P(q);
    el.setAttribute('cx',p[0]);el.setAttribute('cy',p[1]);el.setAttribute('r',r);
    el.setAttribute('fill',fill);
    
    
    g.appendChild(el);
  }
  molGray.forEach(q=>atom(q,5.8,'url(#atom-c)','molecule-atom-carbon'));
  molHetero.forEach((q,i)=>{
    const isS=i===3&&heteroKind==='s';
    atom(q,isS?6.8:5.8,isS?'url(#atom-s)':'url(#atom-n)','molecule-atom-hetero');
  });
  atom([0,0],8.8,'url(#atom-co)','molecule-atom-cobalt');
}
molecule('mol-f',271.7,701,1/3,'s');
molecule('mol-g',631.7,705,1.04/3,'n');
</script>
</body>
</html>
